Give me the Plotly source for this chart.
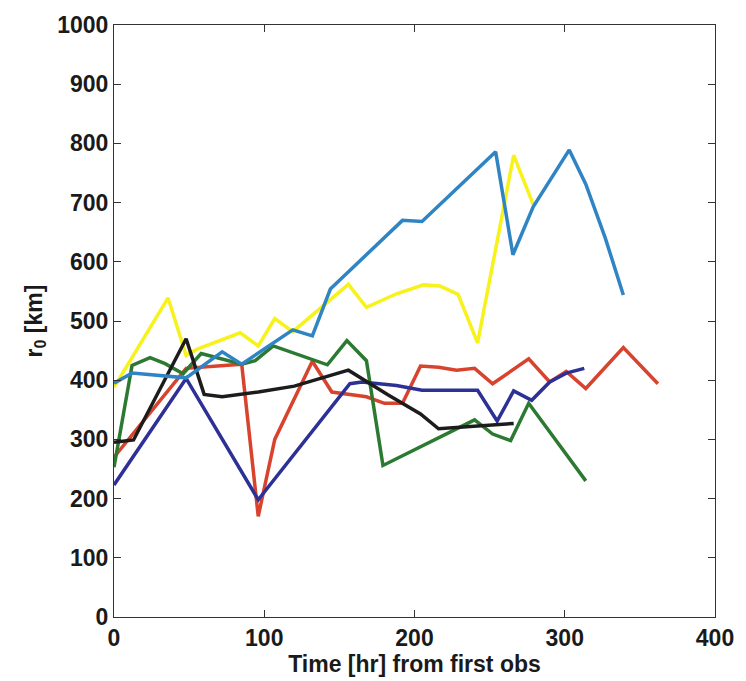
import plotly.graph_objects as go

# Series data (time in hr, r0 in km)
yellow_t = [0, 36, 48, 55, 84, 96, 107, 119, 156, 168, 188, 206, 217, 229, 242, 266, 279]
yellow_r = [388, 539, 442, 452, 480, 458, 504, 482, 562, 523, 546, 561, 559, 545, 463, 780, 697]

red_t = [0, 48, 85, 96, 107, 132, 145, 168, 180, 192, 204, 216, 228, 240, 252, 276, 290, 301, 314, 339, 362]
red_r = [270, 420, 427, 170, 300, 432, 380, 372, 361, 361, 424, 422, 417, 420, 394, 436, 397, 415, 386, 455, 394]

green_t = [0, 12, 24, 34, 46, 58, 85, 94, 106, 142, 155, 168, 179, 240, 252, 264, 276, 314]
green_r = [253, 425, 438, 428, 411, 445, 427, 433, 458, 426, 467, 433, 256, 333, 309, 298, 361, 230]

navy_t = [0, 48, 96, 157, 165, 188, 205, 242, 255, 266, 278, 290, 301, 313]
navy_r = [223, 403, 198, 394, 397, 391, 383, 383, 331, 382, 366, 397, 412, 420]

black_t = [0, 13, 48, 60, 72, 96, 120, 156, 182, 204, 216, 266]
black_r = [295, 299, 470, 376, 372, 380, 390, 417, 376, 343, 318, 327]

blue_t = [0, 12, 48, 72, 85, 119, 132, 144, 192, 205, 254, 265.5, 279, 303, 314, 327, 339]
blue_r = [395, 412, 404, 448, 427, 485, 475, 554, 670, 668, 786, 612, 693, 789, 731, 640, 544]

series = [
    (yellow_t, yellow_r, "#f7f21c"),
    (red_t, red_r, "#d8432e"),
    (green_t, green_r, "#2c7a31"),
    (navy_t, navy_r, "#2d3196"),
    (black_t, black_r, "#1c1c1c"),
    (blue_t, blue_r, "#2f85c4"),
]

fig = go.Figure()
for t, r, c in series:
    fig.add_trace(go.Scatter(x=t, y=r, mode="lines",
                             line=dict(color=c, width=3.5),
                             showlegend=False, hoverinfo="skip"))

font_family = "Liberation Sans, Arial, sans-serif"
axis_common = dict(
    showline=True, linecolor="#333", linewidth=1.2, mirror="ticks",
    ticks="inside", ticklen=7, tickcolor="#333", showgrid=False, zeroline=False,
    tickfont=dict(family=font_family, size=23, color="#1a1a1a", weight="bold"),
)

fig.update_layout(
    width=746, height=681,
    margin=dict(l=114, r=25, t=14, b=63),
    paper_bgcolor="white", plot_bgcolor="white",
    xaxis=dict(range=[0, 400], tickvals=[0, 100, 200, 300, 400],
               title=dict(text="Time [hr] from first obs", standoff=2,
                          font=dict(family=font_family, size=23, color="#1a1a1a", weight="bold")),
               **axis_common),
    yaxis=dict(range=[0, 1000], tickvals=list(range(0, 1001, 100)),
               title=dict(text="r<sub>0</sub> [km]", standoff=8,
                          font=dict(family=font_family, size=23, color="#1a1a1a", weight="bold")),
               **axis_common),
)

fig.write_html("out.html")
